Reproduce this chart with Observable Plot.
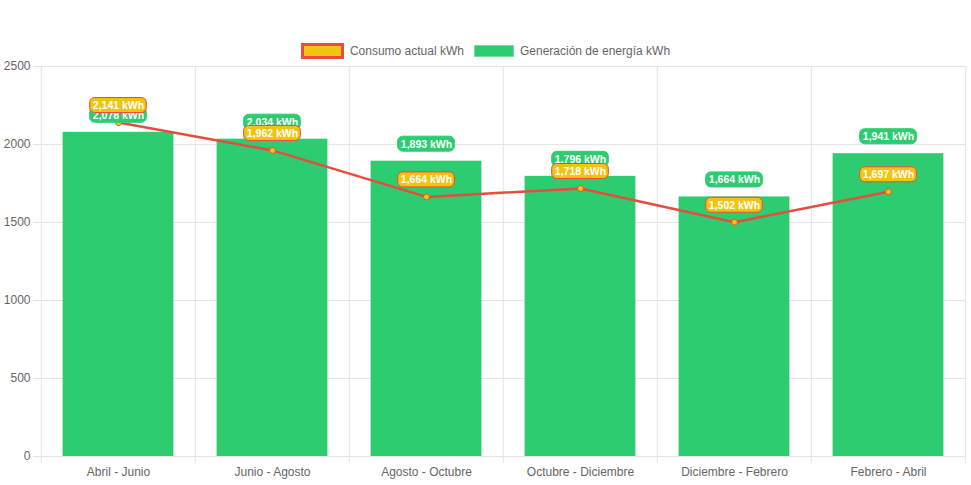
<!DOCTYPE html>
<html>
<head>
<meta charset="utf-8">
<script src="https://cdn.jsdelivr.net/npm/d3@7"></script>
<script src="https://cdn.jsdelivr.net/npm/@observablehq/plot@0.6"></script>
<style>
  body { margin: 0; background: #fff; font-family: "Liberation Sans", Arial, Helvetica, sans-serif; }
  #legend { height: 60px; box-sizing: border-box; padding-top: 42px; display: flex; justify-content: center; align-items: center; font-size: 12px; color: #666; }
  .item { display: flex; align-items: center; height: 16px; line-height: 16px; }
  .item + .item { margin-left: 10px; }
  .box { margin-right: 6px; box-sizing: border-box; }
</style>
</head>
<body>
<div id="legend">
  <div class="item"><span class="box" style="width:43px;height:16px;background:#f1c40f;border:3px solid #e74c3c;"></span>Consumo actual kWh</div>
  <div class="item"><span class="box" style="width:40px;height:12px;background:#2ecc71;border:1px solid #6fe0a0;"></span>Generación de energía kWh</div>
</div>
<div id="chart"></div>
<script>
const categories = ["Abril - Junio", "Junio - Agosto", "Agosto - Octubre", "Octubre - Diciembre", "Diciembre - Febrero", "Febrero - Abril"];
const generacion = [2078, 2034, 1893, 1796, 1664, 1941];
const consumo = [2141, 1962, 1664, 1718, 1502, 1697];
const yTicks = [0, 500, 1000, 1500, 2000, 2500];

const data = categories.map((c, i) => ({cat: c, gen: generacion[i], con: consumo[i]}));

const W = 971, H = 425, ML = 40, MR = 5, MT = 6, MB = 29;
const step = (W - ML - MR) / categories.length;
const fmt = d3.format(",");
const grid = "#e5e5e5";
const labelW = 57;
const labelInset = (step - labelW) / 2;

const chart = Plot.plot({
  width: W,
  height: H,
  marginLeft: ML,
  marginRight: MR,
  marginTop: MT,
  marginBottom: MB,
  style: {fontFamily: "'Liberation Sans', Arial, Helvetica, sans-serif", fontSize: "12px", color: "#666", background: "#fff", overflow: "visible"},
  x: {domain: categories, padding: 0},
  y: {domain: [0, 2500]},
  marks: [
    Plot.ruleY(yTicks, {stroke: grid, strokeWidth: 1, insetLeft: -7}),
    Plot.ruleX(categories, {x: d => d, stroke: grid, dx: -step / 2, insetBottom: -7}),
    Plot.ruleX([categories[categories.length - 1]], {x: d => d, stroke: grid, dx: step / 2, insetBottom: -7}),
    Plot.axisY({ticks: yTicks, tickSize: 0, tickPadding: 10, tickFormat: d => String(d), fill: "#666", fontSize: 12, label: null}),
    Plot.axisX({tickSize: 0, tickPadding: 11, fill: "#666", fontSize: 12, label: null}),
    Plot.barY(data, {x: "cat", y: "gen", fill: "#2ecc71", insetLeft: 21.6, insetRight: 21.6}),
    Plot.lineY(data, {x: "cat", y: "con", stroke: "#e74c3c", strokeWidth: 2.5}),
    Plot.dot(data, {x: "cat", y: "con", r: 3, fill: "#f1c40f", stroke: "#e74c3c", strokeWidth: 1}),
    Plot.barY(data, {x: "cat", y1: "gen", y2: "gen", dy: -17, insetTop: -7.5, insetBottom: -7.5, insetLeft: labelInset, insetRight: labelInset, rx: 5, fill: "#2ecc71", stroke: "#2ecc71"}),
    Plot.text(data, {x: "cat", y: "gen", dy: -17, text: d => fmt(d.gen) + " kWh", fill: "white", fontWeight: "bold", fontSize: 10.5}),
    Plot.barY(data, {x: "cat", y1: "con", y2: "con", dy: -17, insetTop: -7.5, insetBottom: -7.5, insetLeft: labelInset, insetRight: labelInset, rx: 5, fill: "#f1c40f", stroke: "#e74c3c", strokeWidth: 1}),
    Plot.text(data, {x: "cat", y: "con", dy: -17, text: d => fmt(d.con) + " kWh", fill: "white", fontWeight: "bold", fontSize: 10.5})
  ]
});
document.getElementById("chart").appendChild(chart);
</script>
</body>
</html>
